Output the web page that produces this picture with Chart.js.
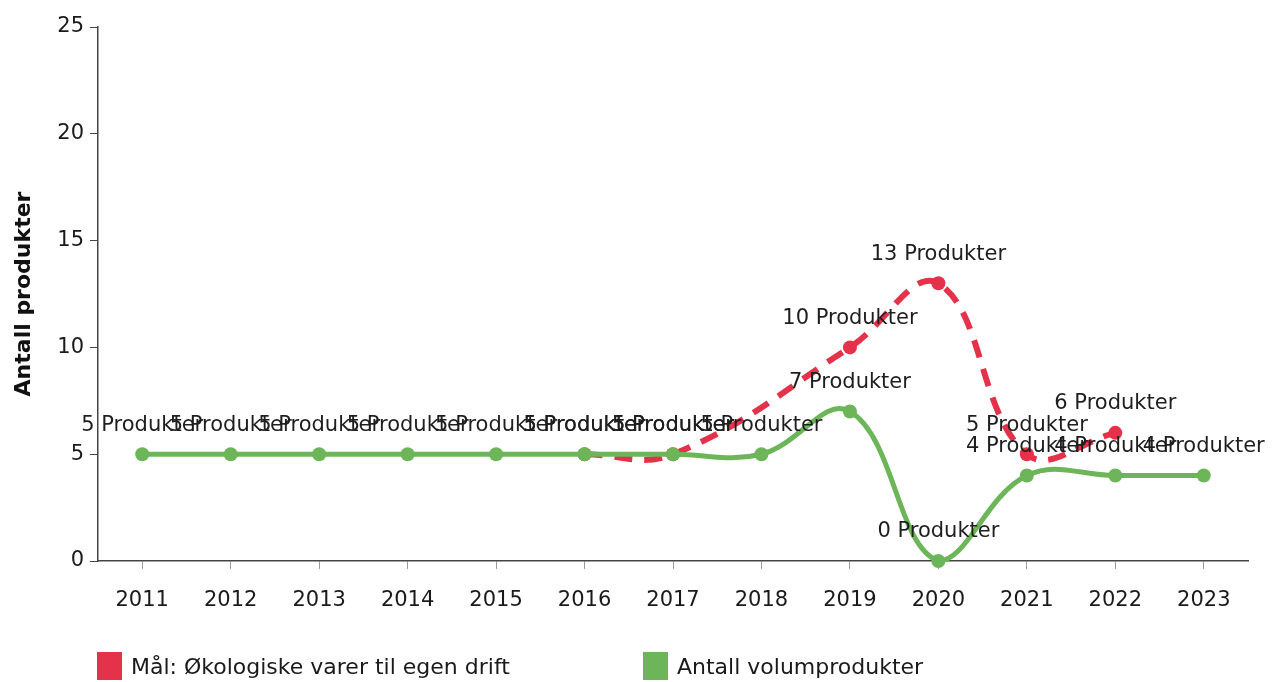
<!DOCTYPE html>
<html>
<head>
<meta charset="utf-8">
<script src="https://cdn.jsdelivr.net/npm/chart.js@4/dist/chart.umd.min.js"></script>
<style>
  body { margin: 0; background: #fff; }
  #wrap { position: relative; width: 1274px; height: 682px; overflow: hidden; }
  #legend { position: absolute; left: 97px; top: 652px; font-family: "DejaVu Sans", sans-serif; font-size: 22px; color: #1a1a1a; }
  .item { position: absolute; top: 0; white-space: nowrap; }
  .box { display: inline-block; width: 25px; height: 28px; vertical-align: -6px; margin-right: 9px; }
</style>
</head>
<body>
<div id="wrap">
  <canvas id="myChart" width="1274" height="682"></canvas>
  <div id="legend"></div>
</div>
<script>
// data
const years = ['2011','2012','2013','2014','2015','2016','2017','2018','2019','2020','2021','2022','2023'];
const maal = [null, null, null, null, null, 5, 5, null, 10, 13, 5, 6, null];
const volum = [5, 5, 5, 5, 5, 5, 5, 5, 7, 0, 4, 4, 4];
const yTicks = [0, 5, 10, 15, 20, 25];
const seriesNames = ['Mål: Økologiske varer til egen drift', 'Antall volumprodukter'];

const RED = '#e5324b';
const GREEN = '#6cb558';
const FONT = '"DejaVu Sans", Verdana, sans-serif';

// labels over every point
const pointLabels = {
  id: 'pointLabels',
  afterDatasetsDraw(chart) {
    const ctx = chart.ctx;
    ctx.save();
    ctx.font = '21px ' + FONT;
    ctx.fillStyle = '#1e1e1e';
    ctx.textAlign = 'center';
    ctx.textBaseline = 'middle';
    chart.data.datasets.forEach((ds, i) => {
      const meta = chart.getDatasetMeta(i);
      meta.data.forEach((pt, j) => {
        const v = ds.data[j];
        if (v === null || v === undefined) return;
        ctx.fillText(v + ' Produkter', pt.x, pt.y - 29);
      });
    });
    ctx.restore();
  }
};

const chart = new Chart(document.getElementById('myChart'), {
  type: 'line',
  data: {
    labels: years,
    datasets: [
      {
        label: seriesNames[0],
        data: maal,
        borderColor: RED,
        backgroundColor: RED,
        borderWidth: 6,
        borderDash: [18, 12],
        pointRadius: 7,
        pointBorderWidth: 0,
        tension: 0.4,
        spanGaps: true,
        clip: false,
        order: 2
      },
      {
        label: seriesNames[1],
        data: volum,
        borderColor: GREEN,
        backgroundColor: GREEN,
        borderWidth: 5,
        pointRadius: 7,
        pointBorderWidth: 0,
        tension: 0.4,
        clip: false,
        order: 1
      }
    ]
  },
  options: {
    responsive: false,
    animation: false,
    layout: { padding: { top: 27, right: 26, left: 0, bottom: 0 } },
    plugins: {
      legend: { display: false },
      tooltip: { enabled: false }
    },
    scales: {
      x: {
        offset: true,
        grid: { drawOnChartArea: false, drawTicks: true, tickLength: 8, color: '#999' },
        border: { color: '#444', width: 1.5 },
        ticks: { color: '#1a1a1a', font: { family: FONT, size: 21 }, padding: 19, maxRotation: 0 },
        afterFit(s) { s.height = 121; }
      },
      y: {
        min: 0,
        max: 25,
        afterBuildTicks(s) { s.ticks = yTicks.map(v => ({ value: v })); },
        grid: { drawOnChartArea: false, drawTicks: true, tickLength: 8, color: '#444' },
        border: { color: '#444', width: 1.5 },
        ticks: { color: '#1a1a1a', font: { family: FONT, size: 21 }, padding: 6 },
        title: {
          display: true,
          text: 'Antall produkter',
          color: '#111',
          font: { family: FONT, size: 22, weight: 'bold' },
          padding: { top: 11, bottom: 0 }
        },
        afterFit(s) { s.width = 98; }
      }
    }
  },
  plugins: [pointLabels]
});

// legend, in dataset order
const legend = document.getElementById('legend');
const legendX = [0, 546];
chart.data.datasets.forEach((ds, i) => {
  const el = document.createElement('div');
  el.className = 'item';
  el.style.left = legendX[i] + 'px';
  el.innerHTML = '<span class="box" style="background:' + ds.backgroundColor + '"></span>' + ds.label;
  legend.appendChild(el);
});
</script>
</body>
</html>
